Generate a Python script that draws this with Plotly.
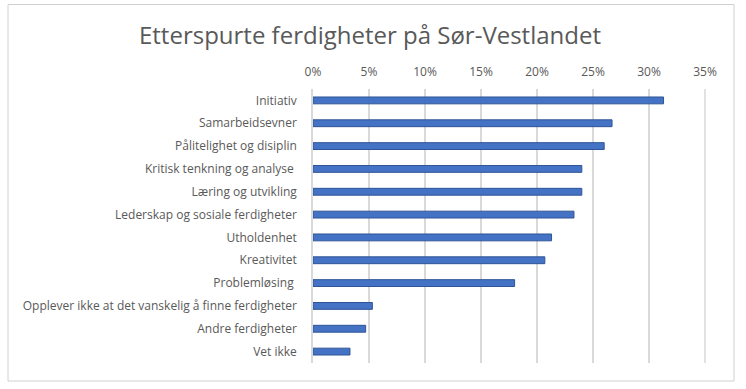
import plotly.graph_objects as go

categories = [
    "Initiativ",
    "Samarbeidsevner",
    "Pålitelighet og disiplin",
    "Kritisk tenkning og analyse\u00a0",
    "Læring og utvikling",
    "Lederskap og sosiale ferdigheter",
    "Utholdenhet",
    "Kreativitet",
    "Problemløsing\u00a0",
    "Opplever ikke at det vanskelig å finne ferdigheter",
    "Andre ferdigheter",
    "Vet ikke",
]
values = [0.313, 0.267, 0.260, 0.240, 0.240, 0.233, 0.213, 0.207, 0.180, 0.053, 0.047, 0.033]
tick_vals = [0, 0.05, 0.10, 0.15, 0.20, 0.25, 0.30, 0.35]
tick_text = ["0%", "5%", "10%", "15%", "20%", "25%", "30%", "35%"]
title_text = "Etterspurte ferdigheter på Sør-Vestlandet"

W, H = 746, 389
L, R, T, B = 313, 705, 89, 363
FONT = "Open Sans"
GRAY = "#595959"

fig = go.Figure(go.Bar(
    x=values, y=categories, orientation="h",
    marker=dict(color="#4472C4", line=dict(color="#2F5597", width=1)),
    width=0.3,
))

pw, ph = R - L, B - T
def px_x(x):
    return (x - L) / pw
def px_y(y):
    return (B - y) / ph

fig.add_shape(type="rect", xref="paper", yref="paper",
              x0=px_x(8), x1=px_x(734), y0=px_y(381), y1=px_y(4.5),
              line=dict(color="#d0d0d0", width=1), fillcolor="rgba(0,0,0,0)", layer="below")

fig.update_layout(
    width=W, height=H,
    margin=dict(l=L, r=W - R, t=T, b=H - B, pad=0),
    paper_bgcolor="white", plot_bgcolor="white",
    showlegend=False,
    font=dict(family=FONT, color=GRAY, size=12),
    title=dict(text=title_text, x=370 / W, xref="container", xanchor="center",
               y=1 - 36 / H, yref="container", yanchor="middle",
               font=dict(family=FONT, size=24, color=GRAY)),
    xaxis=dict(range=[0, 0.35], side="top", tickvals=tick_vals, ticktext=tick_text,
               showgrid=True, gridcolor="#d9d9d9", gridwidth=1.5, zeroline=False,
               showline=False, ticks="", ticklabelstandoff=10,
               tickfont=dict(family=FONT, size=12, color=GRAY)),
    yaxis=dict(autorange="reversed", showgrid=False, zeroline=False,
               showline=True, linecolor="#d9d9d9", linewidth=1.5,
               ticks="", ticklabelstandoff=12,
               tickfont=dict(family=FONT, size=12, color=GRAY)),
)
fig.add_shape(type="line", xref="paper", yref="paper", x0=1, x1=1, y0=0, y1=1,
              line=dict(color="#d9d9d9", width=1.5))

fig.write_html("out.html", config={"displayModeBar": False},
               post_script="document.body.style.margin='0px';")
